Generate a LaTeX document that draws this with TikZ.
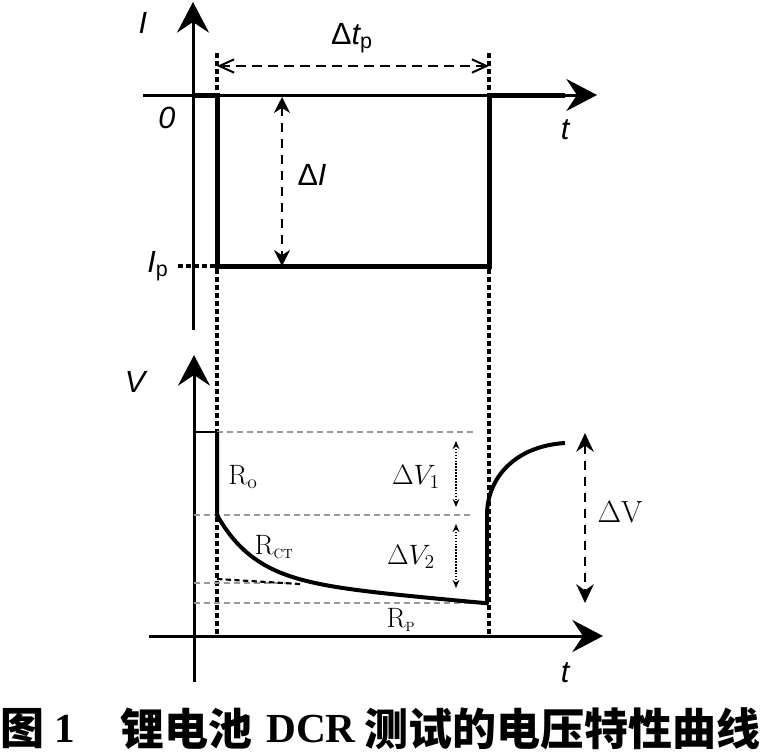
\RequirePackage{fix-cm}
\documentclass[tikz,border=0pt]{standalone}
\usepackage{fontspec}
\usetikzlibrary{arrows.meta}
\newfontfamily\arialfont{Liberation Sans}
\newfontfamily\timesfont{Liberation Serif}
\newfontfamily\cjkfont{Noto Sans CJK SC}

\tikzset{
  axis/.style={line width=2.25pt, -{Stealth[length=23pt,width=24pt,inset=8pt]}},
  pulse/.style={line width=3.75pt},
  guide/.style={line width=2.3pt, dash pattern=on 4pt off 2pt},
  grayline/.style={line width=1.1pt, black!40, dash pattern=on 4.5pt off 3pt},
  dimline/.style={line width=1.5pt, dash pattern=on 7pt off 5pt},
  sanslabel/.style={font=\arialfont\itshape\fontsize{23}{25}\selectfont, inner sep=0pt},
  seriflabel/.style={font=\fontsize{21}{23}\selectfont, inner sep=0pt},
  caption/.style={inner sep=0pt}
}
\newcommand{\smallsub}[1]{\textsubscript{\fontsize{10}{10}\selectfont #1}}

\begin{document}
\begin{tikzpicture}[x=0.75pt, y=-0.75pt]
  \useasboundingbox (0,0) rectangle (762,753);

  % current pulse
  \coordinate (itop) at (193,2);
  \coordinate (ibot) at (193,330);
  \coordinate (tleft) at (143,95);
  \coordinate (tright) at (597,95);
  \coordinate (iorig) at (193,95);
  \coordinate (pa) at (217,95);
  \coordinate (pb) at (217,266);
  \coordinate (pc) at (489,266);
  \coordinate (pd) at (489,95);
  \coordinate (pe) at (565,95);

  \draw[axis] (ibot) -- (itop);
  \draw[axis] (tleft) -- (tright);
  \draw[pulse] (iorig) -- (pa) -- (pb) -- (pc) -- (pd) -- (pe);

  \node[sanslabel] (ilabel) at (143,23) {I};
  \node[sanslabel] (zlabel) at (167,118) {0};
  \node[sanslabel] (tlabel) at (565,130) {t};
  \node[sanslabel] (iplabel) at (158,266) {I\textsubscript{\upshape p}};

  % guide lines
  \coordinate (ga) at (217,53);
  \coordinate (gb) at (217,636);
  \coordinate (gc) at (489,53);
  \coordinate (gd) at (489,636);
  \coordinate (ipleft) at (178,266);
  \draw[guide] (ga) -- (gb);
  \draw[guide] (gc) -- (gd);
  \draw[guide] (ipleft) -- (pb);

  % dimension arrows
  \coordinate (dta) at (217,66);
  \coordinate (dtb) at (489,66);
  \coordinate (dia) at (282,97);
  \coordinate (dib) at (282,266);
  \draw[dimline, {Straight Barb[length=11pt,width=10pt,line width=1.5pt]}-{Straight Barb[length=11pt,width=10pt,line width=1.5pt]}] (dta) -- (dtb);
  \draw[dimline, {Stealth[length=12pt,width=12pt]}-{Stealth[length=12pt,width=12pt]}] (dia) -- (dib);
  \node[sanslabel] (dtlabel) at (352,38) {{\upshape Δ}t\textsubscript{\upshape p}};
  \node[sanslabel] (dilabel) at (312,175) {{\upshape Δ}I};

  % voltage response
  \coordinate (vtop) at (194,355);
  \coordinate (vbot) at (194,682);
  \coordinate (bleft) at (149,636);
  \coordinate (bright) at (603,636);
  \coordinate (v0) at (194,432);
  \coordinate (va) at (217,432);
  \coordinate (vb) at (217,515);
  \coordinate (vd) at (487,515);
  \coordinate (ve) at (565,443);

  \draw[axis] (vbot) -- (vtop);
  \draw[axis] (bleft) -- (bright);
  \node[sanslabel] (vlabel) at (135,382) {V};
  \node[sanslabel] (t2label) at (565,673) {t};

  \coordinate (ha) at (475,432);
  \coordinate (hb) at (194,515);
  \coordinate (hc) at (472,515);
  \coordinate (hd) at (194,583);
  \coordinate (he) at (292,583);
  \coordinate (hf) at (194,603);
  \coordinate (hg) at (487,603);
  \draw[grayline] (va) -- (ha);
  \draw[grayline] (hb) -- (hc);
  \draw[grayline] (hd) -- (he);
  \draw[grayline] (hf) -- (hg);

  \coordinate (ka) at (217,579);
  \coordinate (kb) at (300,584);
  \draw[line width=1.6pt, dash pattern=on 4pt off 2.5pt] (ka) -- (kb);

  \draw[line width=1.5pt] (v0) -- (va);
  \draw[line width=3pt, line join=round] (va) -- (vb)
    -- plot[domain=0:270, samples=90, variable=\d] ({217+\d}, {515+64*(1-exp(-\d/38))+0.09*\d})
    -- (vd) .. controls (487,478) and (515,446) .. (ve);

  \coordinate (dva) at (456,441);
  \coordinate (dvb) at (456,507);
  \coordinate (dvc) at (456,524);
  \coordinate (dvd) at (456,588);
  \coordinate (dve) at (585,433);
  \coordinate (dvf) at (585,603);
  \draw[line width=1.2pt, densely dotted, {Stealth[length=6pt,width=5pt]}-{Stealth[length=6pt,width=5pt]}] (dva) -- (dvb);
  \draw[line width=1.2pt, densely dotted, {Stealth[length=6pt,width=5pt]}-{Stealth[length=6pt,width=5pt]}] (dvc) -- (dvd);
  \draw[line width=2pt, dash pattern=on 7pt off 5pt, {Stealth[length=14pt,width=13pt]}-{Stealth[length=14pt,width=13pt]}] (dve) -- (dvf);

  \node[seriflabel] (rolabel) at (243,477) {R$_{\mathrm{o}}$};
  \node[seriflabel] (rctlabel) at (274,547) {R\smallsub{CT}};
  \node[seriflabel] (rplabel) at (401,620) {R\smallsub{P}};
  \node[seriflabel] (dv1label) at (416,477) {$\Delta V_1$};
  \node[seriflabel] (dv2label) at (411,557) {$\Delta V_2$};
  \node[seriflabel, font=\fontsize{23}{25}\selectfont] (dvlabel) at (620,512) {$\Delta\mathrm{V}$};

  % caption
  \node[caption, font=\cjkfont\bfseries\fontsize{33}{36}\selectfont] (cap1) at (23,729) {图};
  \node[caption, font=\timesfont\bfseries\fontsize{31}{34}\selectfont] (cap2) at (65,729) {1};
  \node[caption, anchor=west, font=\cjkfont\bfseries\fontsize{33}{36}\selectfont] (cap3) at (120,729) {锂电池};
  \node[caption, anchor=west, font=\timesfont\bfseries\fontsize{31}{34}\selectfont] (cap4) at (266,729) {DCR};
  \node[caption, anchor=east, font=\cjkfont\bfseries\fontsize{33}{36}\selectfont] (cap5) at (761,729) {测试的电压特性曲线};
\end{tikzpicture}
\end{document}
